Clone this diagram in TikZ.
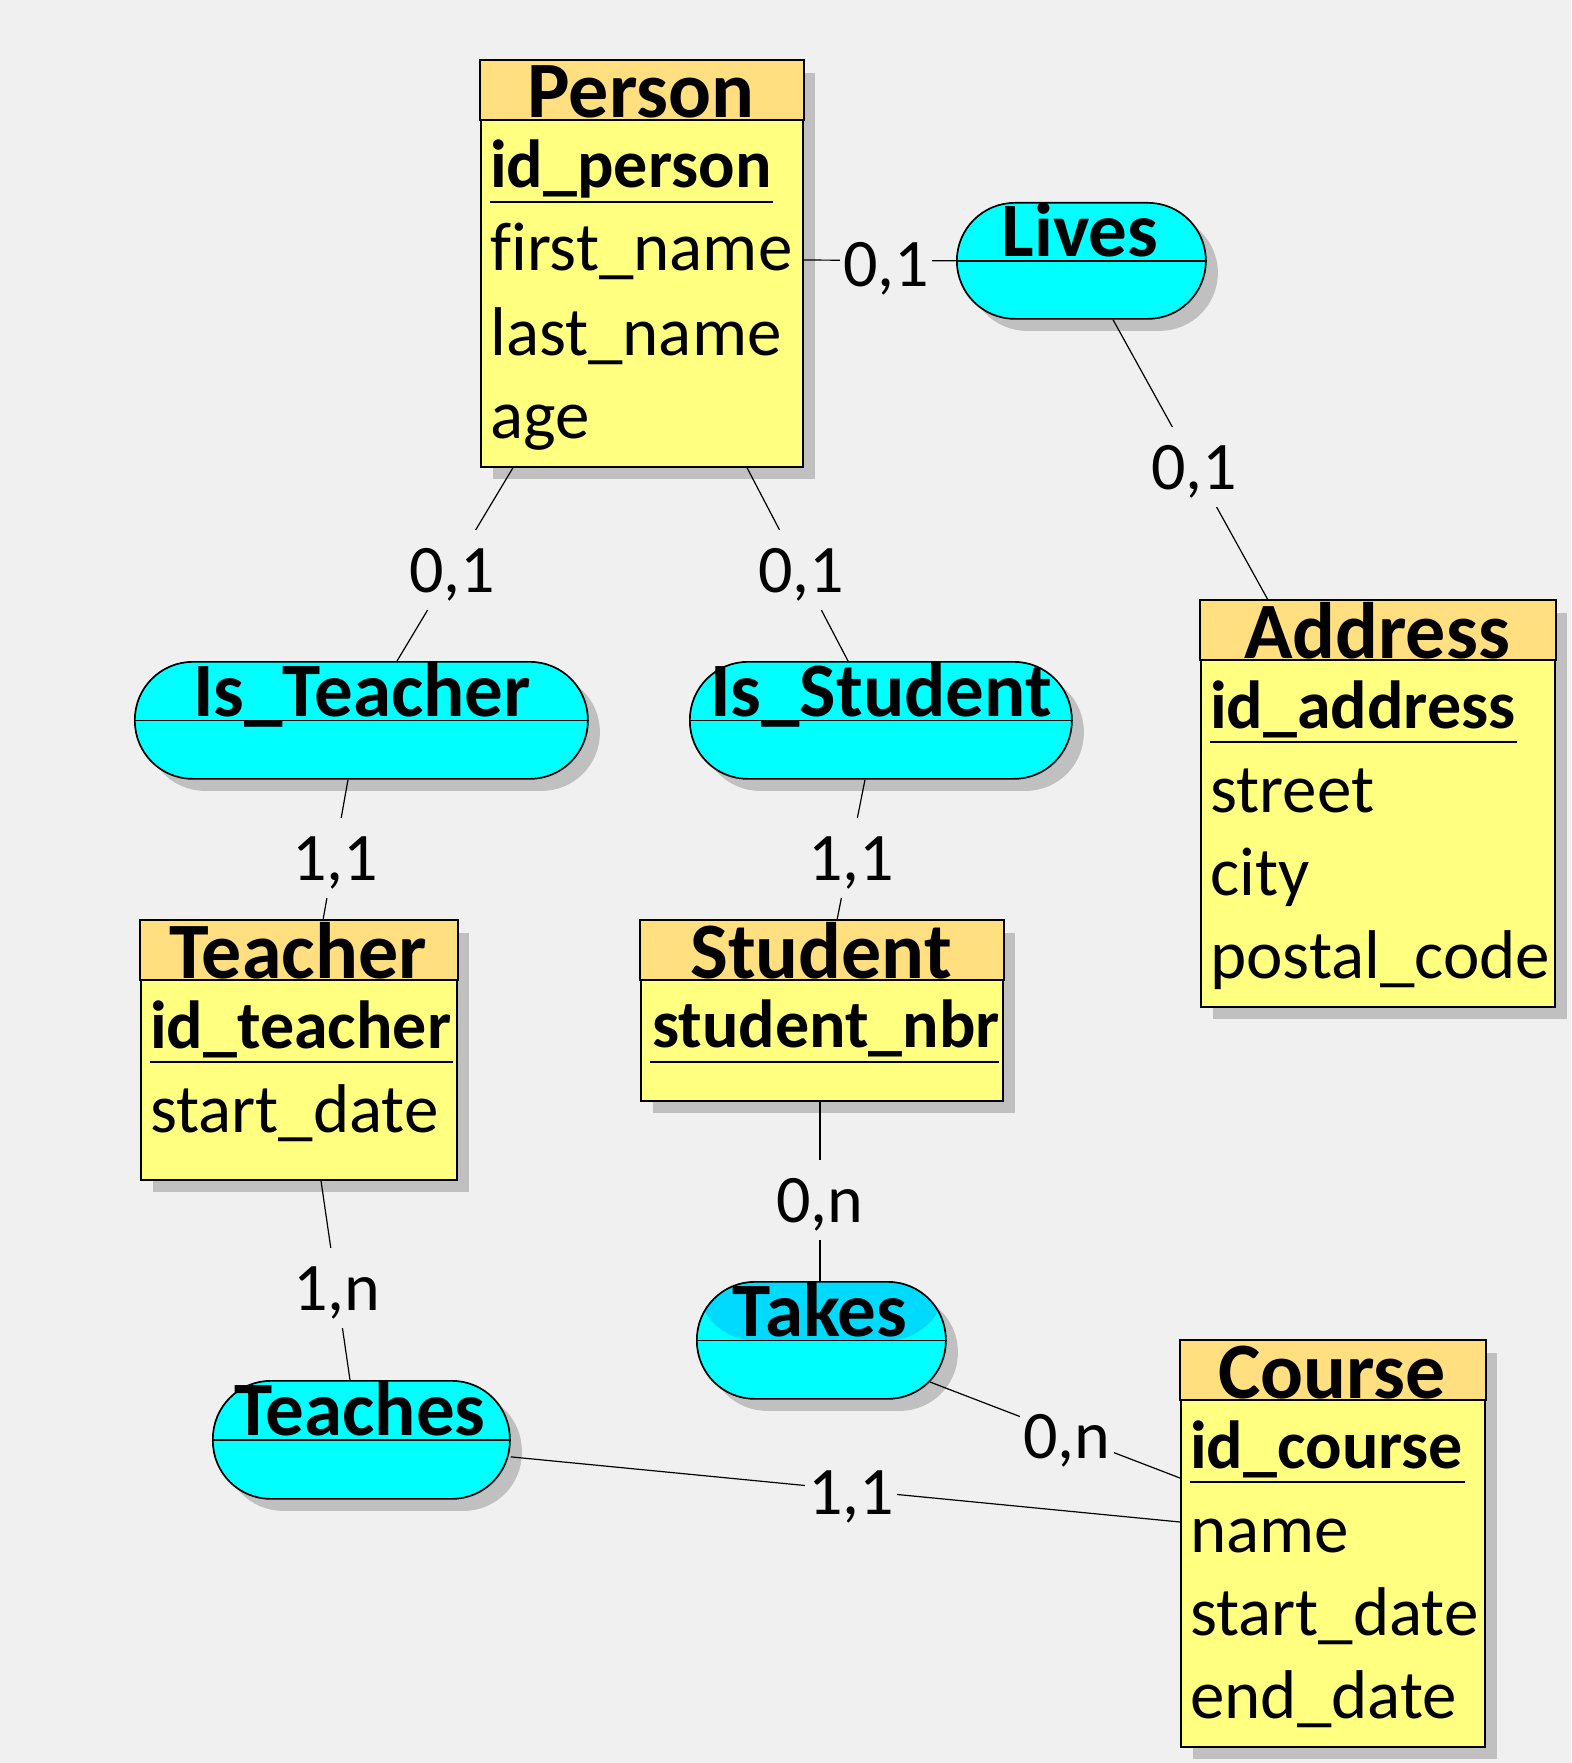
\documentclass[tikz,border=0pt]{standalone}
\usepackage{fontspec}
\setmainfont{Carlito}[Ligatures=NoCommon]
\usetikzlibrary{calc,shadows}
\definecolor{bgc}{HTML}{F0F0F0}
\definecolor{hdrc}{HTML}{FFDF80}
\definecolor{bodyc}{HTML}{FFFF80}
\definecolor{relc}{HTML}{00FFFF}
\definecolor{takesc}{HTML}{00DAFF}
\definecolor{shadc}{HTML}{C0C0C0}
\newcommand\hdrfont{\fontsize{80pt}{82pt}\selectfont\bfseries}
\newcommand\relfont{\fontsize{77pt}{80pt}\selectfont\bfseries}
\newcommand\attrfont{\fontsize{69pt}{72pt}\selectfont}
\newcommand\keyfont{\fontsize{68pt}{72pt}\selectfont\bfseries}
\newcommand\labfont{\fontsize{68pt}{70pt}\selectfont}
\tikzset{
  shad/.style={drop shadow={shadow xshift=12pt, shadow yshift=-12pt, fill=shadc, opacity=1}},
  entity/.style={shad, draw=black, line width=1.7pt, fill=bodyc, anchor=north west, inner sep=0, rectangle},
  hdrbox/.style={draw=black, line width=1.7pt, fill=hdrc},
  rel/.style={shad, draw=black, line width=1.7pt, fill=relc, anchor=north west, inner sep=0, rectangle, rounded corners=58pt, minimum height=117pt},
  midline/.style={draw=black, line width=1.7pt},
  title/.style={font=\hdrfont, inner sep=0, anchor=base},
  reltitle/.style={font=\relfont, inner sep=0, anchor=base},
  attr/.style={font=\attrfont, inner sep=0, anchor=base west},
  key/.style={font=\keyfont, inner sep=0, anchor=base west},
  ul/.style={draw=black, line width=1.3pt},
  conn/.style={draw=black, line width=1.2pt},
  card/.style={font=\labfont, fill=bgc, anchor=base, inner xsep=3pt, inner ysep=2pt, text height=60pt, text depth=16pt},
}
\begin{document}
\begin{tikzpicture}[x=1pt,y=-1pt]
\fill[bgc] (0,0) rectangle (1571,1763);
\useasboundingbox (0,0) rectangle (1571,1763);

% ---------- Entities ----------
% Person
\node[entity, minimum width=322pt, minimum height=406pt] (person) at (480,60) {};
\draw[hdrbox] (person.north west) rectangle ($(person.north east)+(0,60)$);
\node[title] (person-t) at (641,118) {Person};
\node[key] (person-a1) at (490,188) {id\_person};
\draw[ul] (490,202) -- (773,202);
\node[attr] (person-a2) at (490,270) {first\_name};
\node[attr] (person-a3) at (490,355) {last\_name};
\node[attr] (person-a4) at (490,438) {age};

% Address
\node[entity, minimum width=354pt, minimum height=406pt] (address) at (1200,600) {};
\draw[hdrbox] (address.north west) rectangle ($(address.north east)+(0,60)$);
\node[title] (address-t) at (1377,658) {Address};
\node[key] (address-a1) at (1210,728) {id\_address};
\draw[ul] (1210,742) -- (1517,742);
\node[attr] (address-a2) at (1210,812) {street};
\node[attr] (address-a3) at (1210,895) {city};
\node[attr] (address-a4) at (1210,978) {postal\_code};

% Teacher
\node[entity, minimum width=316pt, minimum height=259pt] (teacher) at (140,920) {};
\draw[hdrbox] (teacher.north west) rectangle ($(teacher.north east)+(0,60)$);
\node[title] (teacher-t) at (298,978) {Teacher};
\node[key] (teacher-a1) at (150,1048) {id\_teacher};
\draw[ul] (150,1062) -- (453,1062);
\node[attr] (teacher-a2) at (150,1132) {start\_date};

% Student
\node[entity, minimum width=362pt, minimum height=180pt] (student) at (640,920) {};
\draw[hdrbox] (student.north west) rectangle ($(student.north east)+(0,60)$);
\node[title] (student-t) at (821,978) {Student};
\node[key] (student-a1) at (652,1047) {student\_nbr};
\draw[ul] (650,1062) -- (999,1062);

% Course
\node[entity, minimum width=304pt, minimum height=406pt] (course) at (1180,1340) {};
\draw[hdrbox] (course.north west) rectangle ($(course.north east)+(0,60)$);
\node[title] (course-t) at (1332,1398) {Course};
\node[key] (course-a1) at (1190,1468) {id\_course};
\draw[ul] (1190,1482) -- (1465,1482);
\node[attr] (course-a2) at (1190,1552) {name};
\node[attr] (course-a3) at (1190,1635) {start\_date};
\node[attr] (course-a4) at (1190,1718) {end\_date};

% ---------- Relationships ----------
\node[rel, minimum width=249pt, minimum height=116pt] (lives) at (956,202) {};
\draw[midline] (lives.west) -- (lives.east);
\node[reltitle] (lives-t) at (1080,256) {Lives};

\node[rel, minimum width=453pt] (isteacher) at (134,661) {};
\draw[midline] (isteacher.west) -- (isteacher.east);
\node[reltitle] (isteacher-t) at (362,716) {Is\_Teacher};

\node[rel, minimum width=382pt] (isstudent) at (689,661) {};
\draw[midline] (isstudent.west) -- (isstudent.east);
\node[reltitle] (isstudent-t) at (881,716) {Is\_Student};

\node[rel, minimum width=297pt, minimum height=118pt] (teaches) at (212,1380) {};
\draw[midline] (teaches.west) -- (teaches.east);
\node[reltitle] (teaches-t) at (360,1435) {Teaches};

\node[rel, minimum width=249pt,
  path picture={\fill[takesc] (path picture bounding box.north west) rectangle (path picture bounding box.east);}] (takes) at (696,1281) {};
\draw[midline] (takes.west) -- (takes.east);
\node[reltitle] (takes-t) at (820,1336) {Takes};

% ---------- Connectors ----------
\coordinate (c1a) at ($(person.north east)+(0,200)$);
\coordinate (c1b) at (lives.west);
\coordinate (c2a) at ($(lives.south west)+(157,0)$);
\coordinate (c2b) at ($(address.north west)+(68,0)$);
\coordinate (c3a) at ($(person.south west)+(33,0)$);
\coordinate (c3b) at ($(isteacher.north west)+(263,0)$);
\coordinate (c4a) at ($(person.south west)+(267,0)$);
\coordinate (c4b) at ($(isstudent.north west)+(159,0)$);
\coordinate (c5a) at ($(isteacher.south west)+(214,0)$);
\coordinate (c5b) at ($(teacher.north west)+(183,0)$);
\coordinate (c6a) at ($(isstudent.south west)+(176,0)$);
\coordinate (c6b) at ($(student.north west)+(197,0)$);
\coordinate (c7a) at ($(teacher.south west)+(181,0)$);
\coordinate (c7b) at ($(teaches.north west)+(138,0)$);
\coordinate (c8a) at ($(student.south west)+(180,0)$);
\coordinate (c8b) at ($(takes.north west)+(124,0)$);
\coordinate (c9a) at (930,1382);
\coordinate (c9b) at ($(course.north west)+(0,138)$);
\coordinate (c10a) at ($(teaches.east)+(0,17)$);
\coordinate (c10b) at ($(course.north west)+(0,182)$);

\draw[conn] (c1a) -- (c1b);
\draw[conn] (c2a) -- (c2b);
\draw[conn] (c3a) -- (c3b);
\draw[conn] (c4a) -- (c4b);
\draw[conn] (c5a) -- (c5b);
\draw[conn] (c6a) -- (c6b);
\draw[conn] (c7a) -- (c7b);
\draw[conn] (c8a) -- (c8b);
\draw[conn] (c9a) -- (c9b);
\draw[conn] (c10a) -- (c10b);

\node[card, inner ysep=0pt, text height=48pt, text depth=12pt] (l1) at (886,286) {0,1};
\node[card] (l2) at (1194,489) {0,1};
\node[card] (l3) at (452,592) {0,1};
\node[card] (l4) at (801,592) {0,1};
\node[card] (l5) at (335,880) {1,1};
\node[card] (l6) at (851,880) {1,1};
\node[card] (l7) at (337,1310) {1,n};
\node[card] (l8) at (820,1222) {0,n};
\node[card] (l9) at (1067,1458) {0,n};
\node[card] (l10) at (851,1514) {1,1};
\end{tikzpicture}
\end{document}
